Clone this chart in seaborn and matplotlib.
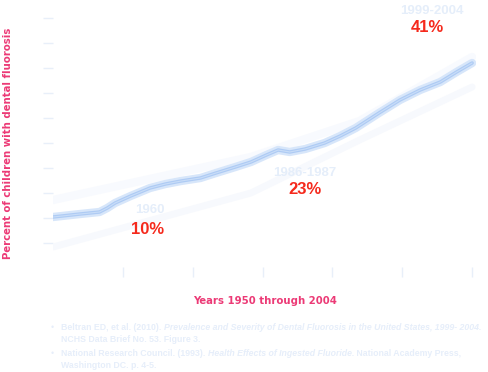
import numpy as np
import pandas as pd
import matplotlib
matplotlib.use("Agg")
import matplotlib.pyplot as plt
import seaborn as sns

# main trend (percent of children with dental fluorosis)
years = [1950, 1953.5, 1956, 1957, 1958, 1960, 1962.5, 1964.5, 1966.5, 1969, 1971,
         1973.5, 1975.5, 1977.5, 1979, 1980.5, 1982.5, 1985, 1987, 1989, 1992,
         1994.7, 1997.3, 1999.9, 2002, 2004]
percent = [5.2, 5.8, 6.2, 7.0, 8.0, 9.4, 11.0, 11.8, 12.4, 13.0, 14.0,
           15.2, 16.2, 17.6, 18.6, 18.2, 18.8, 20.0, 21.4, 23.0, 26.0,
           28.6, 30.6, 32.2, 34.2, 36.0]

# faint ghost bands around the main line
ghost_years = [1950, 1975.5, 1989.5, 2004]
ghost_low = [-0.8, 10.0, 20.6, 31.2]
ghost_high = [8.6, 17.2, 24.4, 37.2]

x_ticks = [1959, 1968, 1977, 1986, 1995, 2004]
y_ticks = [0, 5, 10, 15, 20, 25, 30, 35, 40, 45]

milestones = ["1960", "1986-1987", "1999-2004"]
milestone_vals = ["10%", "23%", "41%"]

refs = [
    [("Beltran ED, et al. (2010). ", "normal"),
     ("Prevalence and Severity of Dental Fluorosis in the United States, 1999- 2004.", "italic")],
    [("NCHS Data Brief No. 53. Figure 3.", "normal")],
    [("National Research Council. (1993). ", "normal"),
     ("Health Effects of Ingested Fluoride.", "italic"),
     (" National Academy Press,", "normal")],
    [("Washington DC. p. 4-5.", "normal")],
]

sns.set_style("white")
plt.rcParams['font.family'] = ['Liberation Sans', 'DejaVu Sans']

df = pd.DataFrame({"year": years, "percent": percent})
ghost = pd.DataFrame({"year": ghost_years, "low": ghost_low, "high": ghost_high})

W, H = 488, 372
fig = plt.figure(figsize=(W / 100, H / 100), dpi=100)
ax = fig.add_axes([53 / W, 1 - 267 / H, 423 / W, 257 / H])

sns.lineplot(data=ghost, x="year", y="low", ax=ax, color="#f7f9fd", lw=5)
sns.lineplot(data=ghost, x="year", y="high", ax=ax, color="#f8fafe", lw=6)
sns.lineplot(data=df, x="year", y="percent", ax=ax, color="#d7e6fa", lw=6)
sns.lineplot(data=df, x="year", y="percent", ax=ax, color="#aecbf4", lw=2.5)
sns.lineplot(data=df, x="year", y="percent", ax=ax, color="#c9ddf8", lw=0.8)

ax.set_xlim(1950, 2004.5)
ax.set_ylim(-4.8, 46.6)
ax.set_xticks(x_ticks)
ax.set_yticks(y_ticks)
ax.set_xticklabels([])
ax.set_yticklabels([])
ax.tick_params(axis="both", direction="out", length=7, width=1, color="#e8eff9",
               left=True, bottom=True)
for s in ax.spines.values():
    s.set_visible(False)
ax.set_xlabel("")
ax.set_ylabel("")

# milestone annotations
label_pos = [(150, 210), (305, 173), (432, 11)]
val_pos = [(148, 229), (305, 190), (427, 27)]
for lab, val, (lx, ly), (vx, vy) in zip(milestones, milestone_vals, label_pos, val_pos):
    fig.text(lx / W, 1 - ly / H, lab, color="#e5eefa", fontsize=9.5, fontweight="bold",
             ha="center", va="center")
    fig.text(vx / W, 1 - vy / H, val, color="#f5291c", fontsize=12, fontweight="bold",
             ha="center", va="center")

pink = "#ec3a76"
fig.text(8 / W, 1 - 143 / H, "Percent of children with dental fluorosis", rotation=90,
         color=pink, fontsize=7.3, fontweight="bold", ha="center", va="center",
         family="DejaVu Sans")
fig.text(265 / W, 1 - 301 / H, "Years 1950 through 2004", color=pink, fontsize=7.3,
         fontweight="bold", ha="center", va="center", family="DejaVu Sans")

# references with mixed italic pieces; size fitted so the first line spans ~423 px
ref_color = "#e6eefa"
fig.canvas.draw()
renderer = fig.canvas.get_renderer()
probe = 0
for txt, style in refs[0]:
    t = fig.text(0, 0, txt, fontsize=10, fontweight="bold", style=style)
    probe += t.get_window_extent(renderer).width
    t.remove()
ref_size = 10 * 423 / probe

line_y = [327, 339, 353, 365]
for i, (parts, y) in enumerate(zip(refs, line_y)):
    if i in (0, 2):
        fig.text(52 / W, 1 - y / H, "\u2022", color=ref_color, fontsize=ref_size,
                 ha="center", va="center")
    x = 61
    for txt, style in parts:
        t = fig.text(x / W, 1 - y / H, txt, color=ref_color, fontsize=ref_size,
                     fontweight="bold", style=style, ha="left", va="center")
        x += t.get_window_extent(renderer).width

fig.savefig("out.png", dpi=100)
